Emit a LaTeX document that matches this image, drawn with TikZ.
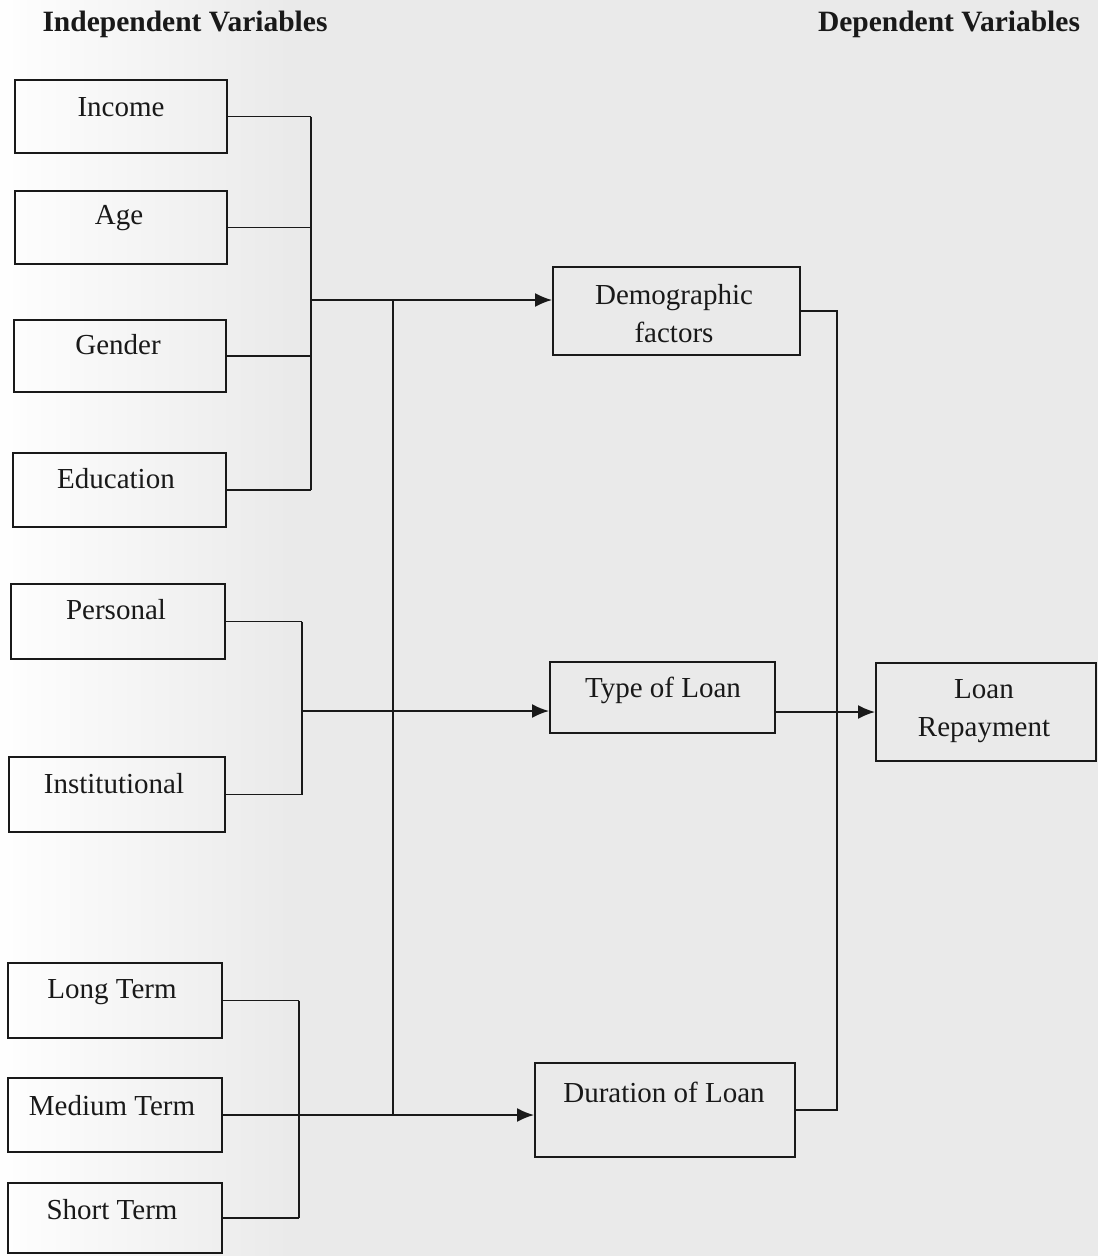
\documentclass[tikz,border=0pt]{standalone}
\usepackage{fontspec}
\setmainfont{Liberation Serif}
\usetikzlibrary{arrows.meta}
\definecolor{scanbg}{RGB}{234,234,234}
\definecolor{ink}{RGB}{25,25,25}
\tikzset{
  varbox/.style={draw=ink, line width=1.9pt, inner sep=0pt},
  txt/.style={font=\fontsize{29}{38}\selectfont, text=ink, align=center, inner sep=0pt},
  head/.style={font=\bfseries\fontsize{29.5}{32}\selectfont, text=ink, inner sep=0pt},
  conn/.style={draw=ink, line width=1.9pt},
  arr/.style={conn, -{Latex[length=17pt,width=14pt]}}
}
\begin{document}
\begin{tikzpicture}[x=1pt,y=-1pt]
% background (scanned page)
\fill[scanbg] (0,0) rectangle (1098,1256);
\shade[left color=white!97!scanbg, right color=scanbg] (0,0) rectangle (290,1256);
\useasboundingbox (0,0) rectangle (1098,1256);

% headers
\node[head] (hind) at (185,24) {Independent Variables};
\node[head] (hdep) at (949,24) {Dependent Variables};

% left boxes
\node[varbox, minimum width=212pt, minimum height=73pt] (income) at (121,116.5) {};
\node[varbox, minimum width=212pt, minimum height=73pt] (age) at (121,227.5) {};
\node[varbox, minimum width=212pt, minimum height=72pt] (gender) at (120,356) {};
\node[varbox, minimum width=213pt, minimum height=74pt] (education) at (119.5,490) {};
\node[varbox, minimum width=214pt, minimum height=75pt] (personal) at (118,621.5) {};
\node[varbox, minimum width=216pt, minimum height=75pt] (institutional) at (117,794.5) {};
\node[varbox, minimum width=214pt, minimum height=75pt] (longterm) at (115,1000.5) {};
\node[varbox, minimum width=214pt, minimum height=74pt] (mediumterm) at (115,1115) {};
\node[varbox, minimum width=214pt, minimum height=70pt] (shortterm) at (115,1218) {};

\node[txt] (tincome) at (121,107) {Income};
\node[txt] (tage) at (119,218) {Age};
\node[txt] (tgender) at (118,345) {Gender};
\node[txt] (teducation) at (116,479) {Education};
\node[txt] (tpersonal) at (116,610) {Personal};
\node[txt] (tinstitutional) at (114,784) {Institutional};
\node[txt] (tlongterm) at (112,992) {Long Term};
\node[txt] (tmediumterm) at (112,1106) {Medium Term};
\node[txt] (tshortterm) at (112,1210) {Short Term};

% middle boxes
\node[varbox, minimum width=247pt, minimum height=88pt] (demographic) at (676.5,311) {};
\node[txt] (tdemographic) at (674,314) {Demographic\\factors};
\node[varbox, minimum width=225pt, minimum height=71pt] (typeofloan) at (662.5,697.5) {};
\node[txt] (ttypeofloan) at (663,690) {Type of Loan};
\node[varbox, minimum width=260pt, minimum height=94pt] (duration) at (665,1110) {};
\node[txt] (tduration) at (664,1092) {Duration of Loan};

% dependent box
\node[varbox, minimum width=220pt, minimum height=98pt] (repayment) at (986,712) {};
\node[txt] (trepayment) at (984,711) {Loan\\Repayment};

% junction coordinates
\coordinate (b1) at (311,300);
\coordinate (b2) at (302,711);
\coordinate (b3) at (299,1115);
\coordinate (vt) at (393,300);
\coordinate (vb) at (393,1115);
\coordinate (r) at (837,700);

% demographic group
\draw[conn] (income.east) -- (income.east -| b1);
\draw[conn] (age.east) -- (age.east -| b1);
\draw[conn] (gender.east) -- (gender.east -| b1);
\draw[conn] (education.east) -- (education.east -| b1);
\draw[conn] (b1 |- income.east) -- (b1 |- education.east);
\draw[arr] (b1) -- (b1 -| demographic.west);

% type of loan group
\draw[conn] (personal.east) -- (personal.east -| b2);
\draw[conn] (institutional.east) -- (institutional.east -| b2);
\draw[conn] (b2 |- personal.east) -- (b2 |- institutional.east);
\draw[arr] (b2) -- (b2 -| typeofloan.west);

% duration group
\draw[conn] (longterm.east) -- (longterm.east -| b3);
\draw[conn] (shortterm.east) -- (shortterm.east -| b3);
\draw[conn] (b3 |- longterm.east) -- (b3 |- shortterm.east);
\draw[arr] (mediumterm.east) -- (mediumterm.east -| duration.west);

% connecting vertical between arrows
\draw[conn] (vt) -- (vb);

% right side to dependent variable
\draw[conn] (demographic.east) -- (demographic.east -| r) -- (r |- duration.east) -- (duration.east);
\draw[arr] (typeofloan.east |- repayment.west) -- (repayment.west);
\end{tikzpicture}
\end{document}
